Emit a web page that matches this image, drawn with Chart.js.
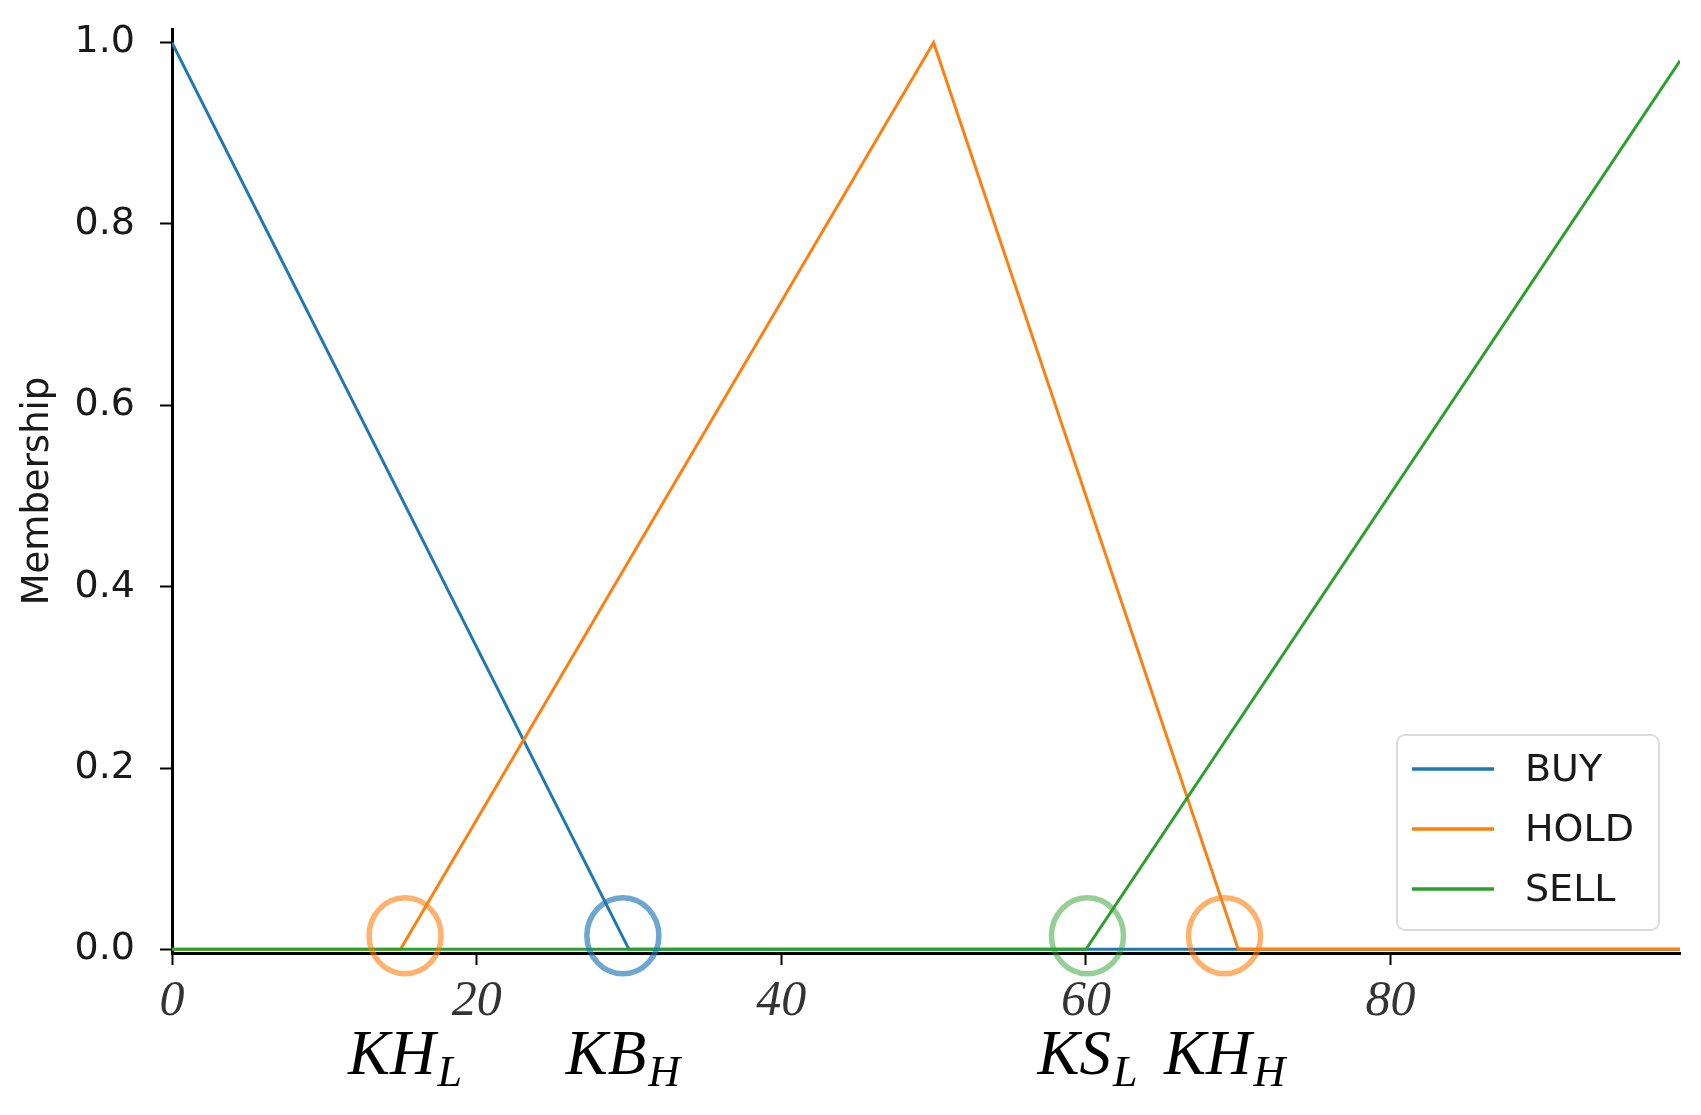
<!DOCTYPE html>
<html lang="en">
<head>
<meta charset="UTF-8">
<title>Membership</title>
<script src="https://cdn.jsdelivr.net/npm/chart.js@4.4.1/dist/chart.umd.min.js"></script>
<style>
  html, body { margin: 0; padding: 0; background: #fff; }
</style>
</head>
<body>
<canvas id="myChart" width="1701" height="1115"></canvas>
<script>
// membership functions at their corner points
const buyX = [0, 30, 99];
const buyY = [1, 0, 0];
const holdX = [0, 15, 50, 70, 99];
const holdY = [0, 0, 1, 0, 0];
const sellX = [0, 60, 99];
const sellY = [0, 0, 0.98];

const seriesNames = ['BUY', 'HOLD', 'SELL'];
const seriesColors = ['#1f77b4', '#ff7f0e', '#2ca02c'];

const xTicks = [0, 20, 40, 60, 80];
const yTicks = [0, 0.2, 0.4, 0.6, 0.8, 1.0];

// circled thresholds under the axis
const keyX = [15.3, 29.6, 60.1, 69.1];
const keyY = [0.015, 0.015, 0.015, 0.015];
const keyMain = ['KH', 'KB', 'KS', 'KH'];
const keySub = ['L', 'H', 'L', 'H'];
const keyColors = ['rgba(255,127,14,0.6)', 'rgba(31,119,180,0.65)', 'rgba(44,160,44,0.5)', 'rgba(255,127,14,0.6)'];

function pts(xs, ys) {
    return xs.map((x, i) => ({x: x, y: ys[i]}));
}

const keyPlugin = {
    id: 'keyPoints',
    afterDatasetsDraw(chart) {
        const ctx = chart.ctx;
        const xs = chart.scales.x, ys = chart.scales.y;
        ctx.save();
        ctx.lineWidth = 5.5;
        keyX.forEach((v, i) => {
            ctx.strokeStyle = keyColors[i];
            ctx.beginPath();
            ctx.ellipse(xs.getPixelForValue(v), ys.getPixelForValue(keyY[i]), 36, 38, 0, 0, Math.PI * 2);
            ctx.stroke();
        });
        ctx.restore();
    },
    afterDraw(chart) {
        const ctx = chart.ctx;
        const xs = chart.scales.x;
        const base = chart.chartArea.bottom + 121;
        ctx.save();
        ctx.fillStyle = '#000';
        ctx.textBaseline = 'alphabetic';
        ctx.textAlign = 'left';
        keyX.forEach((v, i) => {
            ctx.font = 'italic 63px "Liberation Serif"';
            const w1 = ctx.measureText(keyMain[i]).width;
            ctx.font = 'italic 44px "Liberation Serif"';
            const w2 = ctx.measureText(keySub[i]).width;
            const left = xs.getPixelForValue(v) - (w1 + w2 + 2) / 2;
            ctx.font = 'italic 63px "Liberation Serif"';
            ctx.fillText(keyMain[i], left, base);
            ctx.font = 'italic 44px "Liberation Serif"';
            ctx.fillText(keySub[i], left + w1 + 2, base + 12);
        });

        // legend box, lower right inside the axes
        const area = chart.chartArea;
        const bx = area.right - 283, by = area.bottom - 218, bw = 262, bh = 195;
        ctx.fillStyle = 'rgba(255,255,255,0.8)';
        ctx.strokeStyle = '#dcdcdc';
        ctx.lineWidth = 2;
        ctx.beginPath();
        ctx.roundRect(bx, by, bw, bh, 8);
        ctx.fill();
        ctx.stroke();
        ctx.font = '38px "DejaVu Sans"';
        ctx.textBaseline = 'middle';
        chart.data.datasets.forEach((ds, i) => {
            const ry = by + 34 + i * 60;
            ctx.strokeStyle = ds.borderColor;
            ctx.lineWidth = 3.5;
            ctx.beginPath();
            ctx.moveTo(bx + 15, ry);
            ctx.lineTo(bx + 97, ry);
            ctx.stroke();
            ctx.fillStyle = '#1a1a1a';
            ctx.fillText(ds.label, bx + 128, ry + 2);
        });
        ctx.restore();
    }
};

const ctx = document.getElementById('myChart');
const myChart = new Chart(ctx, {
    type: 'line',
    data: {
        datasets: [
            {label: seriesNames[0], data: pts(buyX, buyY), borderColor: seriesColors[0], order: 3},
            {label: seriesNames[1], data: pts(holdX, holdY), borderColor: seriesColors[1], order: 2},
            {label: seriesNames[2], data: pts(sellX, sellY), borderColor: seriesColors[2], order: 1}
        ]
    },
    options: {
        responsive: false,
        animation: false,
        layout: {padding: {top: 29, right: 21, left: 0, bottom: 0}},
        elements: {
            line: {borderWidth: 3, tension: 0},
            point: {radius: 0, hoverRadius: 0}
        },
        scales: {
            x: {
                type: 'linear',
                min: 0,
                max: 99,
                afterBuildTicks: s => { s.ticks = xTicks.map(v => ({value: v})); },
                afterFit: s => { s.height = 162; s.paddingLeft = 0; s.paddingRight = 0; },
                border: {display: true, color: '#000', width: 3},
                grid: {drawOnChartArea: false, drawTicks: true, tickLength: 12, tickWidth: 2, tickColor: '#000'},
                ticks: {
                    padding: 7,
                    color: '#333',
                    font: {family: 'Liberation Serif', style: 'italic', size: 50}
                }
            },
            y: {
                type: 'linear',
                min: -0.004,
                max: 1.015,
                afterBuildTicks: s => { s.ticks = yTicks.map(v => ({value: v})); },
                afterFit: s => { s.width = 172; s.paddingTop = 0; s.paddingBottom = 0; },
                border: {display: true, color: '#000', width: 3},
                grid: {drawOnChartArea: false, drawTicks: true, tickLength: 12, tickWidth: 2, tickColor: '#000'},
                ticks: {
                    padding: 25,
                    color: '#1a1a1a',
                    font: {family: 'DejaVu Sans', size: 38},
                    callback: v => v.toFixed(1)
                },
                title: {
                    display: true,
                    text: 'Membership',
                    color: '#1a1a1a',
                    font: {family: 'DejaVu Sans', size: 37},
                    padding: {top: 16, bottom: 0}
                }
            }
        },
        plugins: {
            legend: {display: false},
            tooltip: {enabled: false}
        }
    },
    plugins: [keyPlugin]
});
</script>
</body>
</html>
